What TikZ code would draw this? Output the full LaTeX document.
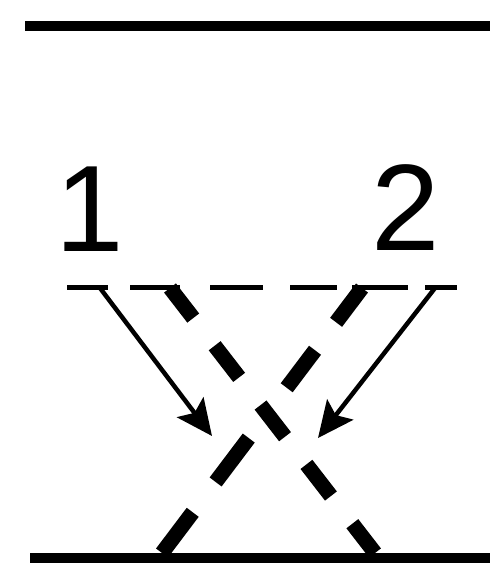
\documentclass[tikz,border=0pt]{standalone}
\usepackage{fontspec}
\setmainfont{Liberation Sans}
\usetikzlibrary{arrows.meta}
\begin{document}
\begin{tikzpicture}[x=1pt,y=-1pt,
  wall/.style={line width=10pt},
  guide/.style={line width=5pt,dash pattern={on 41pt off 22pt on 50pt off 30pt on 53pt off 27pt on 47pt off 15pt on 56pt off 17pt on 32pt off 50pt}},
  ray/.style={line width=4.5pt,-{Stealth[length=36pt,width=33pt,inset=7pt]}},
  beam/.style={line width=15pt},
  digit/.style={font=\fontsize{123}{123}\selectfont,inner sep=0pt,anchor=base}]
\useasboundingbox (0,0) rectangle (490,569);
% walls
\coordinate (tl) at (25,26);
\coordinate (tr) at (490,26);
\coordinate (bl) at (30,558);
\coordinate (br) at (490,558);
\draw[wall] (tl) -- (tr);
\draw[wall] (bl) -- (br);
% labels
\node[digit] (n1) at (90,251) {1};
\node[digit] (n2) at (406,250) {2};
% dashed guide
\coordinate (gl) at (67,287);
\coordinate (gr) at (457,287);
\draw[guide] (gl) -- (gr);
% thick dashed beams
\coordinate (aT) at (170,288);
\coordinate (aB) at (375,553);
\coordinate (bB) at (162,553);
\coordinate (bT) at (362,288);
\draw[beam,dash pattern={on 40pt off 35pt},dash phase=2pt] (aT) -- (aB);
\draw[beam,dash pattern={on 51pt off 38pt on 55pt off 63pt on 47pt off 35pt on 43pt off 60pt}] (bB) -- (bT);
% arrows
\coordinate (s1) at (100,288);
\coordinate (e1) at (212,436);
\coordinate (s2) at (435,288);
\coordinate (e2) at (318,438);
\draw[ray] (s1) -- (e1);
\draw[ray] (s2) -- (e2);
\end{tikzpicture}
\end{document}
